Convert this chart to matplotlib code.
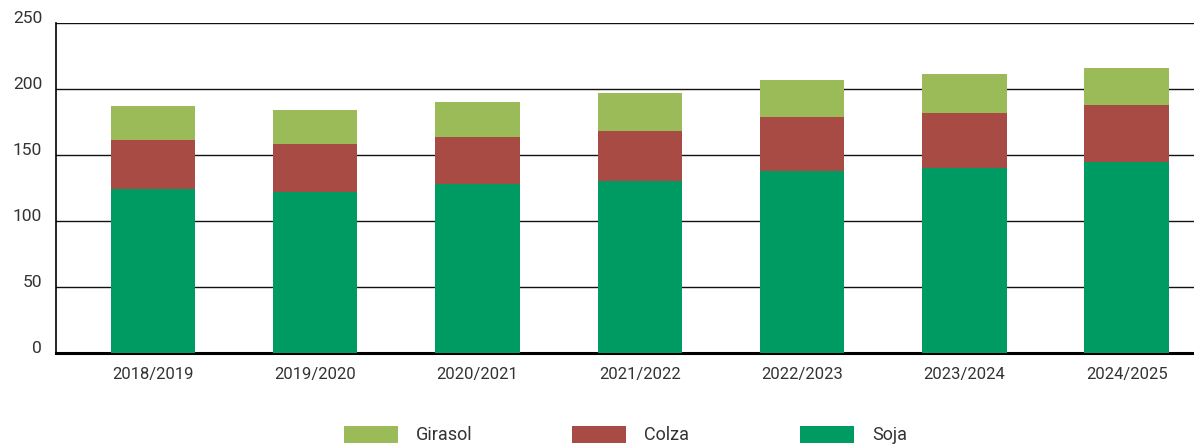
import matplotlib.pyplot as plt
import numpy as np

campaigns = ["2018/2019", "2019/2020", "2020/2021", "2021/2022", "2022/2023", "2023/2024", "2024/2025"]
soja = [124, 122, 128, 130, 138, 140, 145]
colza = [37, 36, 36, 38, 41, 42, 43]
girasol = [26, 26, 26, 29, 28, 29, 28]

c_soja = "#009A63"
c_colza = "#A84B45"
c_girasol = "#9BBB59"

plt.rcParams["font.family"] = ["Roboto", "DejaVu Sans"]

fig = plt.figure(figsize=(11.94, 4.45), dpi=100)
ax = fig.add_axes([56 / 1194, 92 / 445, 1 - 56 / 1194, 330 / 445])

x = np.arange(len(campaigns))
w = 0.52
soja = np.array(soja)
colza = np.array(colza)
girasol = np.array(girasol)
b1 = ax.bar(x, soja, w, color=c_soja, zorder=3)
b2 = ax.bar(x, colza, w, bottom=soja, color=c_colza, zorder=3)
b3 = ax.bar(x, girasol, w, bottom=soja + colza, color=c_girasol, zorder=3)

ax.set_ylim(0, 250)
ax.set_xlim(-0.598, 6.415)
ax.set_yticks([0, 50, 100, 150, 200, 250])
ax.set_xticks(x)
ax.set_xticklabels(campaigns)
ax.yaxis.grid(True, color="#111111", linewidth=1.0, zorder=0)
ax.tick_params(length=0, labelcolor="#333333")
ax.tick_params(axis="x", pad=10, labelsize=12)
ax.tick_params(axis="y", pad=10, labelsize=12.5)
for t in ax.get_yticklabels():
    t.set_verticalalignment("baseline")
for s in ["top", "right"]:
    ax.spines[s].set_visible(False)
ax.spines["left"].set_color("black")
ax.spines["left"].set_linewidth(1.2)
ax.spines["bottom"].set_color("black")
ax.spines["bottom"].set_linewidth(2.2)

# three legend entries at a fixed pitch, like the original
entries = [(b3, "Girasol", 344), (b2, "Colza", 572), (b1, "Soja", 800)]
for h, lab, px in entries:
    lg = fig.legend([h], [lab], loc="center left", bbox_to_anchor=(px / 1194, 10 / 445),
                    frameon=False, fontsize=13, handlelength=3.0, handleheight=1.1,
                    handletextpad=1.0, borderpad=0, borderaxespad=0,
                    labelcolor="#333333")

fig.savefig("out.png", dpi=100)
